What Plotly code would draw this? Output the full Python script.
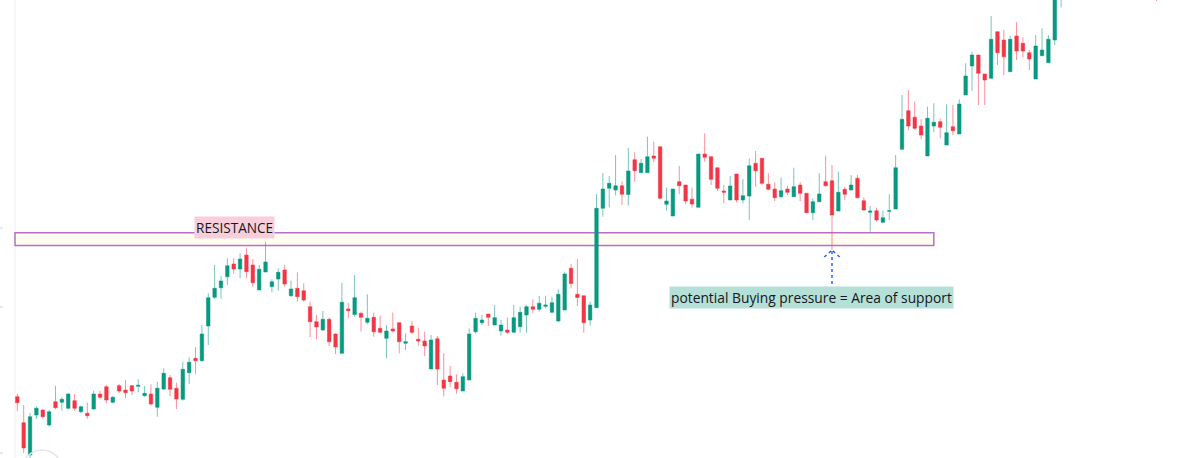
import plotly.graph_objects as go

# Candle index (time position) and OHLC values
candle_index = list(range(165)) + [179]

open_ = [63.3, 37.3, 5, 45, 50, 35, 58.3, 57.7, 51.7, 59.3,
         48.3, 46.7, 51, 66, 73.3, 57.7, 74.3, 70, 74.3, 73.7,
         64.3, 66, 52.7, 71, 82.3, 71.7, 60.7, 87.3, 101.7, 99.3,
         134, 162.7, 172.3, 183.3, 196, 191, 205, 195, 170, 188,
         173.3, 181, 190, 164.3, 171.7, 169.3, 153.3, 138.3, 130, 140.7,
         126, 106.7, 151, 145.5, 146.7, 137.7, 142.7, 131.7, 121.7, 131,
         137.3, 116.7, 134, 120.7, 119, 91, 121.3, 80, 84, 77.7,
         69, 80, 128.3, 137.3, 146, 135, 129, 130, 127.7, 133.3,
         145, 153.3, 150.7, 153.7, 147.7, 139, 150, 191.7, 165.7, 164.3,
         140, 152.3, 251.7, 271.7, 270, 274.2, 265.5, 300.3, 287.3, 287.3,
         304, 313.3, 255.7, 244, 278.3, 275, 260.7, 252.7, 306, 303.3,
         292.3, 269, 260, 286, 260, 264, 296.7, 301.7, 275.7, 271,
         263.3, 271, 263.3, 275, 266.7, 247.3, 258.3, 278.3, 279.3, 249,
         270.7, 270, 281.7, 259.3, 247.7, 249.3, 237.7, 248.7, 251, 310.7,
         349.3, 342.7, 334, 304, 334, 338.3, 315, 333.3, 326, 365,
         394, 405, 386, 381.7, 428.3, 420, 388.3, 424, 416.7, 407.3,
         381, 404.3, 397.3, 420, 463, 470]

close = [57.3, 12, 43.3, 51.7, 43.3, 48.3, 52.3, 60.7, 66, 51.7,
         53.3, 44.3, 66, 62.7, 60, 62.7, 69, 67.3, 69, 74.7,
         66.7, 56, 71.7, 86.7, 70.7, 61, 90.7, 97.7, 99.3, 126,
         162.3, 171.7, 179, 194.3, 191, 201, 188.3, 177.3, 190.7, 198,
         178.3, 187.7, 176, 171, 163.3, 160, 138.3, 133, 140.7, 118.3,
         113, 157.7, 149.3, 162.3, 142.7, 141.7, 128.3, 127.7, 129, 129,
         118.3, 118.3, 127.7, 119, 114, 120, 91, 71.7, 78.3, 71.3,
         83.3, 126, 141.7, 140, 142.7, 142.3, 135, 127.7, 142.3, 147.7,
         153.3, 150.7, 156.7, 155, 157.3, 165.7, 186, 176.5, 162.5, 137.3,
         155, 251.7, 271, 276.7, 274.2, 265.7, 289, 289.3, 296.7, 303.3,
         301.7, 261.7, 259, 271, 274.3, 259, 256, 306, 302.7, 280.7,
         271.7, 267.7, 274, 260, 264.3, 294.3, 289.3, 276.7, 270.7, 262.3,
         269.3, 267.7, 273.3, 266.7, 247.3, 258.3, 266, 274.3, 245, 267.7,
         265.7, 275, 262.3, 250, 249, 240, 242.3, 249.3, 292.3, 340.7,
         334, 331.7, 325, 341.7, 337.7, 332.7, 327.3, 329.3, 356, 384,
         405, 386.7, 380, 420.7, 407.3, 403.3, 420.7, 409, 409, 401,
         414, 410, 420.7, 472, 500, 462]

high = [66, 55, 47.3, 54, 50.7, 50, 74.3, 62.7, 66.7, 66,
        54.3, 57.3, 69.3, 69.3, 75, 64, 76, 80, 75, 80.7,
        74, 75.7, 78.3, 91.7, 85, 77.3, 98.3, 102.7, 112.7, 135,
        166.7, 195, 184, 201.7, 201.7, 206.7, 211.7, 201, 195, 218.3,
        180.7, 191.7, 195, 179.3, 187.7, 176.7, 158.3, 145, 149, 142.5,
        126.7, 177.3, 157.3, 185, 148.3, 165.7, 147.3, 144.3, 135, 147.5,
        137.3, 126.7, 139, 132.3, 128.3, 125, 124, 106.7, 94, 85.5,
        86.7, 131.7, 147.3, 145, 146, 155, 140, 142.7, 155, 153.3,
        155, 160.7, 164, 164.3, 163.3, 170.7, 188.3, 196, 201, 164.3,
        158.3, 266, 287, 284, 305, 278.5, 312.3, 307.7, 301, 323.3,
        318.3, 313.3, 272.3, 271, 294, 275, 272.3, 306, 326.7, 303.3,
        292.3, 275, 284, 286, 281, 301.7, 309, 301.7, 286.7, 277.7,
        282.3, 274, 292.3, 277.7, 266.7, 261.7, 286.7, 304.3, 295, 288.3,
        273.3, 285, 285, 262.7, 254, 252.3, 249.3, 265.7, 305, 365,
        370, 358.3, 340.7, 353.3, 356.7, 341.7, 355.7, 355, 360.7, 396.7,
        408.3, 405, 386, 444, 428.3, 430, 424, 437.7, 422.7, 410,
        425, 431.7, 425, 480, 505, 475]

low = [49, 7, 2, 41, 41.7, 33.3, 50.7, 49.3, 50.7, 49.3,
       46.7, 41.3, 50, 60.7, 56.7, 56.7, 66.7, 61.7, 65, 67.7,
       63.3, 54.3, 43.3, 70, 64, 51, 59.3, 76, 86, 98.3,
       115, 161, 161, 175, 186, 181.7, 181.7, 173.3, 170, 188,
       167.7, 169.3, 173.3, 163.3, 158.3, 158.3, 123, 120.7, 129.3, 114,
       106, 106.7, 141.7, 143.3, 128.3, 135.7, 123.3, 126.7, 101.7, 127.5,
       106.7, 110, 126, 114.3, 104, 91, 75, 63.7, 73.3, 66.3,
       69, 80, 126.7, 135, 134, 135, 124.3, 126, 127.7, 127.3,
       127.3, 146.7, 148.3, 151.7, 146.7, 138.3, 150, 171.7, 154, 127.3,
       134.3, 152.3, 243.3, 252.5, 264.5, 255, 254.5, 278.3, 287.3, 287.3,
       297.7, 260.7, 249.3, 244, 265.7, 256, 252.3, 252.7, 298.3, 275,
       269, 256.7, 260, 257.7, 256.7, 240, 273.3, 275, 270, 259,
       261.7, 265, 263.3, 259, 246.7, 240, 258.3, 273.3, 210, 249,
       260, 270, 261.7, 249.3, 228.3, 238.3, 236.7, 240, 251, 310.7,
       330, 330, 320.7, 304, 327.7, 321.7, 315, 325, 326, 365,
       369.3, 355, 355, 381.7, 395, 385, 388.3, 400, 402.7, 390,
       381, 404.3, 397.3, 415, 452.7, 459]

# Drawn zone / annotation values
resistance_zone = (214.5, 227.3)      # price band
zone_span = (-0.36, 144.0)            # candle index span of the band
support_candle = 128                  # candle with the long lower wick
arrow_prices = (170, 210)

GREEN = "#089981"
RED = "#F23645"

fig = go.Figure()

# resistance band (drawn beneath candles)
fig.add_shape(type="rect", xref="x", yref="y",
              x0=zone_span[0], x1=zone_span[1],
              y0=resistance_zone[0], y1=resistance_zone[1],
              line=dict(color="#b86fcc", width=1.5),
              fillcolor="#fffdf0", layer="below")

fig.add_trace(go.Candlestick(
    x=candle_index, open=open_, high=high, low=low, close=close,
    increasing=dict(line=dict(color="rgba(8,153,129,0.55)", width=1), fillcolor=GREEN),
    decreasing=dict(line=dict(color="rgba(242,54,69,0.55)", width=1), fillcolor=RED),
    whiskerwidth=0, showlegend=False, hoverinfo="skip"))

# dotted arrow pointing to the wick
dot = dict(color="#2962ff", width=1.5, dash="dot")
fig.add_shape(type="line", xref="x", yref="y", x0=support_candle, x1=support_candle,
              y0=arrow_prices[0], y1=arrow_prices[1], line=dot)
fig.add_shape(type="line", xref="x", yref="y", x0=support_candle - 1.2, x1=support_candle,
              y0=arrow_prices[1] - 7, y1=arrow_prices[1], line=dot)
fig.add_shape(type="line", xref="x", yref="y", x0=support_candle + 1.2, x1=support_candle,
              y0=arrow_prices[1] - 7, y1=arrow_prices[1], line=dot)

# chart frame bits (left border, partial tick marks, logo circle)
fig.add_shape(type="line", xref="paper", yref="paper", x0=15/1200, x1=15/1200, y0=0, y1=1,
              line=dict(color="#eceef2", width=1), layer="below")
for ty in (228, 307, 453):
    fig.add_shape(type="line", xref="paper", yref="paper", x0=0, x1=3/1200,
                  y0=1 - ty/458, y1=1 - ty/458, line=dict(color="#d1d4dc", width=1))
fig.add_shape(type="circle", xref="paper", yref="paper", x0=22/1200, x1=62/1200,
              y0=1 - 490/458, y1=1 - 450/458, line=dict(color="#e3e5ec", width=1.5))

fig.add_annotation(x=34.2, y=232.7, xref="x", yref="y", text="RESISTANCE",
                   showarrow=False, bgcolor="#f8cedb", borderpad=1,
                   font=dict(family="Open Sans", size=13.6, color="#131722"),
                   xanchor="center", yanchor="middle")
fig.add_annotation(x=124.85, y=162.5, xref="x", yref="y",
                   text="potential Buying pressure = Area of support",
                   showarrow=False, bgcolor="#b4e0d8", borderpad=1,
                   font=dict(family="Open Sans", size=13.8, color="#131722"),
                   xanchor="center", yanchor="middle")

fig.update_layout(
    width=1200, height=458,
    margin=dict(l=0, r=0, t=0, b=0),
    paper_bgcolor="white", plot_bgcolor="white",
    xaxis=dict(visible=False, range=[-2.72, 185.82], rangeslider=dict(visible=False)),
    yaxis=dict(visible=False, range=[2, 460]),
    boxgap=0.22,
)

fig.write_html("out.html", config={"displayModeBar": False},
               post_script="document.body.style.margin='0';document.body.style.overflow='hidden';")
